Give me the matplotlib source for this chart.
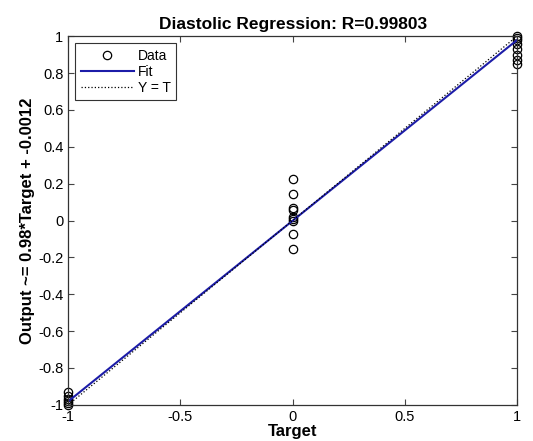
import matplotlib.pyplot as plt
import numpy as np

# target / output pairs
target_neg = [-1, -1, -1, -1, -1, -1]
output_neg = [-0.93, -0.95, -0.97, -0.98, -0.99, -1.0]
target_zero = [0, 0, 0, 0, 0, 0, 0, 0, 0]
output_zero = [0.225, 0.144, 0.068, 0.057, 0.019, 0.008, -0.003, -0.073, -0.155]
target_pos = [1, 1, 1, 1, 1, 1, 1, 1]
output_pos = [1.0, 0.99, 0.98, 0.96, 0.93, 0.90, 0.87, 0.85]

x_ticks = [-1, -0.5, 0, 0.5, 1]
x_labels = ['-1', '-0.5', '0', '0.5', '1']
y_ticks = [-1, -0.8, -0.6, -0.4, -0.2, 0, 0.2, 0.4, 0.6, 0.8, 1]
y_labels = ['-1', '-0.8', '-0.6', '-0.4', '-0.2', '0', '0.2', '0.4', '0.6', '0.8', '1']

slope = 0.98
intercept = -0.0012
r_value = 0.99803

plt.rcParams['font.family'] = ['Liberation Sans', 'DejaVu Sans']

fig = plt.figure(figsize=(5.33, 4.41), dpi=100)
ax = fig.add_axes([0.128, 0.082, 0.842, 0.836])

targets = np.array(target_neg + target_zero + target_pos, dtype=float)
outputs = np.array(output_neg + output_zero + output_pos, dtype=float)

ax.plot(targets, outputs, 'o', mfc='none', mec='black', ms=6, mew=0.9, label='Data', clip_on=False)
xs = np.array([-1, 1])
ax.plot(xs, slope * xs + intercept, color='#1c1ca8', lw=1.5, label='Fit')
ax.plot(xs, xs, ':', color='black', lw=0.9, label='Y = T')

ax.set_xlim(-1, 1)
ax.set_ylim(-1, 1)
ax.set_xticks(x_ticks)
ax.set_xticklabels(x_labels)
ax.set_yticks(y_ticks)
ax.set_yticklabels(y_labels)
ax.tick_params(direction='in', top=True, right=True, labelsize=10.5, length=4, color='#444444')
for s in ax.spines.values():
    s.set_linewidth(0.9)
    s.set_color('#333333')

ax.set_title('Diastolic Regression: R=%.5f' % r_value, fontsize=12.5, fontweight='bold', pad=5)
ax.set_xlabel('Target', fontsize=12, fontweight='bold', labelpad=0)
ax.set_ylabel('Output ~= %.2f*Target + %.4f' % (slope, intercept), fontsize=12, fontweight='bold', labelpad=2)

leg = ax.legend(loc='upper left', fontsize=10, fancybox=False, framealpha=1,
                edgecolor='#333333', borderaxespad=0.5, handlelength=3.8, labelspacing=0.15,
                borderpad=0.4, handletextpad=0.3)
leg.get_frame().set_linewidth(0.8)

fig.savefig('out.png', dpi=100)
